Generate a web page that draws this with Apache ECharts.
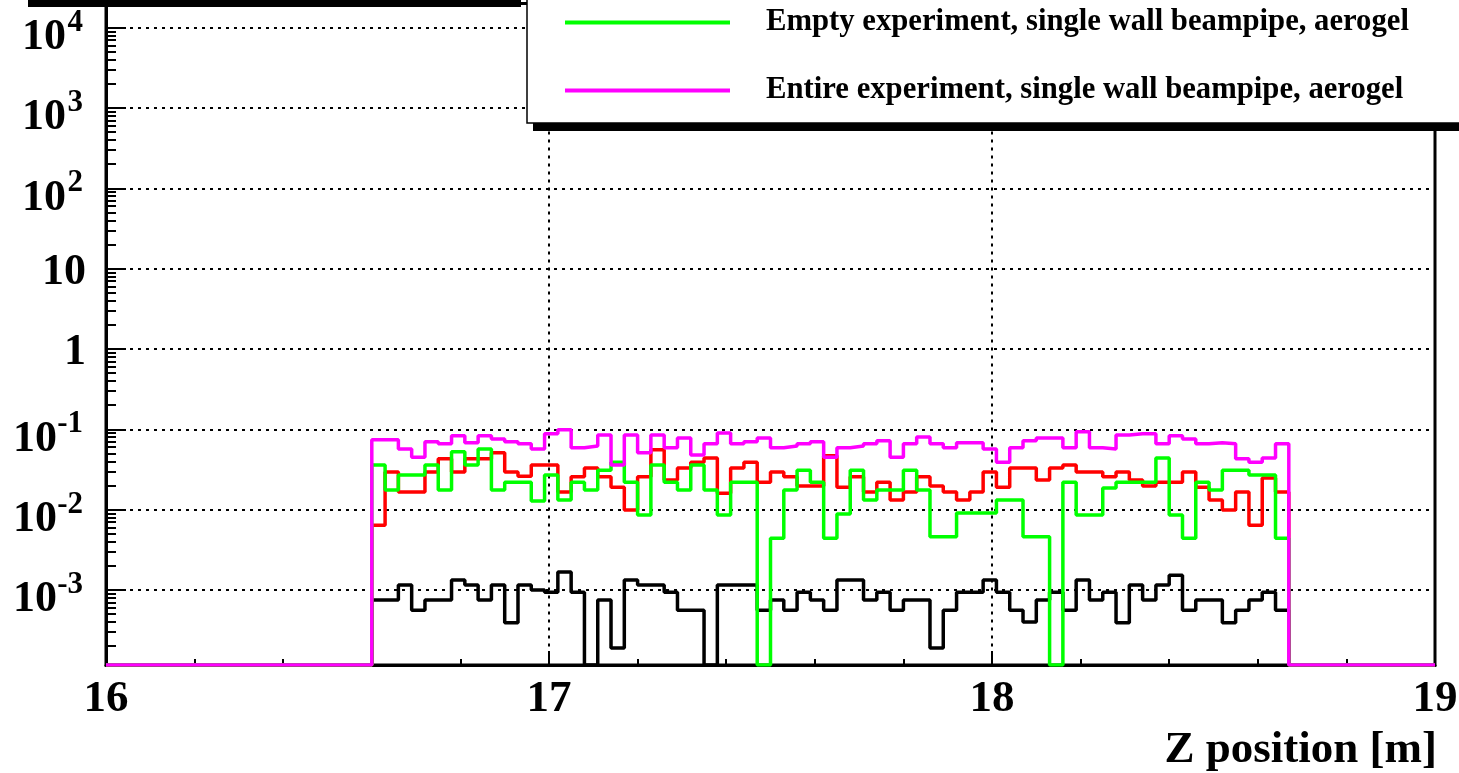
<!DOCTYPE html>
<html>
<head>
<meta charset="utf-8">
<script src="https://cdn.jsdelivr.net/npm/echarts@6/dist/echarts.min.js"></script>
<style>
html,body{margin:0;padding:0;background:#fff;}
#c{width:1459px;height:773px;}
</style>
</head>
<body>
<div id="c"></div>
<script>
// ---- data (histograms: 69 bins of 0.03 m starting at 16.6 m; 0 = empty bin) ----
const binStart = 16.6;
const binWidth = 0.03;
const blackVals = [0.00075,0.00075,0.00115,0.00056,0.00075,0.00075,0.00133,0.00115,0.00075,0.00115,
  0.00039,0.00115,0.001,0.00094,0.00167,0.00094,0,0.00075,0.00019,0.00133,
  0.00115,0.00115,0.00094,0.00056,0.00056,0,0.00115,0.00115,0.00115,0.00056,
  0.00075,0.00056,0.00094,0.00075,0.00056,0.00133,0.00133,0.00075,0.00094,0.00056,
  0.00075,0.00075,0.00019,0.00056,0.00094,0.00094,0.00133,0.00094,0.00056,0.0004,
  0.00075,0.00094,0.00056,0.00133,0.00075,0.00094,0.00039,0.00115,0.00075,0.00115,
  0.00153,0.00056,0.00075,0.00075,0.00039,0.00056,0.00075,0.00094,0.00056];
const redVals = [0.0064,0.0295,0.0166,0.0166,0.0295,0.043,0.0295,0.043,0.043,0.051,
  0.0295,0.026,0.036,0.036,0.0166,0.0256,0.033,0.0256,0.019,0.0099,
  0.0256,0.0555,0.0234,0.033,0.039,0.044,0.016,0.033,0.039,0.022,
  0.0295,0.0256,0.0197,0.0197,0.047,0.019,0.0256,0.0166,0.022,0.0132,
  0.0166,0.0256,0.0197,0.0166,0.0132,0.0166,0.0295,0.019,0.033,0.033,
  0.0234,0.033,0.036,0.0295,0.0295,0.0256,0.0295,0.0234,0.0197,0.022,
  0.022,0.0295,0.019,0.0132,0.0099,0.0166,0.0064,0.0248,0.0166];
const greenVals = [0.036,0.0176,0.027,0.027,0.036,0.0176,0.0524,0.036,0.057,0.0176,
  0.022,0.022,0.0128,0.027,0.0132,0.022,0.0176,0.031,0.039,0.022,
  0.0086,0.036,0.022,0.0176,0.036,0.0176,0.0086,0.022,0.022,0,
  0.0044,0.0176,0.031,0.022,0.0044,0.0088,0.031,0.0132,0.0176,0.0176,
  0.031,0.0176,0.0046,0.0046,0.0091,0.0091,0.0091,0.0132,0.0132,0.0046,
  0.0046,0,0.022,0.0086,0.0086,0.0186,0.022,0.022,0.022,0.044,
  0.0086,0.0044,0.022,0.0176,0.031,0.031,0.027,0.027,0.0044];
const magentaVals = [0.074,0.074,0.057,0.045,0.070,0.066,0.083,0.068,0.083,0.076,
  0.070,0.066,0.057,0.088,0.099,0.059,0.062,0.085,0.036,0.085,
  0.051,0.085,0.059,0.078,0.048,0.066,0.090,0.066,0.070,0.078,
  0.059,0.062,0.066,0.070,0.045,0.059,0.062,0.066,0.072,0.045,
  0.066,0.080,0.066,0.059,0.068,0.068,0.057,0.039,0.059,0.072,
  0.078,0.078,0.059,0.093,0.059,0.057,0.085,0.088,0.088,0.066,
  0.083,0.076,0.066,0.068,0.066,0.043,0.039,0.044,0.066];
const seriesNames = ['Histogram (black)', 'Histogram (red)',
  'Empty experiment, single wall beampipe, aerogel',
  'Entire experiment, single wall beampipe, aerogel'];
const seriesColors = ['#000000', '#ff0000', '#00ff00', '#ff00ff'];
const xTickValues = [16, 17, 18, 19];
const xTickLabels = ['16', '17', '18', '19'];
const yTickValues = [1e-3, 1e-2, 1e-1, 1, 10, 100, 1000, 10000];
const yTickBase = ['10', '10', '10', '1', '10', '10', '10', '10'];
const yTickExp = ['-3', '-2', '-1', '', '', '2', '3', '4'];
const xTitle = 'Z position [m]';

// ---- axis ranges ----
const X_MIN = 16, X_MAX = 19;
const Y_MIN = 1.164e-4, Y_MAX = 20000;
const FONT = "'Liberation Serif', 'Times New Roman', serif";

function histPoints(vals) {
  const pts = [[X_MIN, Y_MIN]];
  vals.forEach((v, i) => pts.push([+(binStart + i * binWidth).toFixed(4), v > 0 ? v : Y_MIN]));
  pts.push([+(binStart + vals.length * binWidth).toFixed(4), Y_MIN]);
  pts.push([X_MAX, Y_MIN]);
  return pts;
}

const minorY = [];
for (let k = -4; k <= 4; k++) {
  for (let m = 2; m <= 9; m++) {
    const v = m * Math.pow(10, k);
    if (v > Y_MIN && v < Y_MAX) minorY.push(v);
  }
}

function nearestIdx(arr, v, log) {
  let best = 0, bd = Infinity;
  arr.forEach((a, i) => {
    const d = log ? Math.abs(Math.log10(a) - Math.log10(v)) : Math.abs(a - v);
    if (d < bd) { bd = d; best = i; }
  });
  return bd < 1e-6 ? best : -1;
}

const allVals = [blackVals, redVals, greenVals, magentaVals];
const series = allVals.map((vals, i) => ({
  name: seriesNames[i],
  type: 'line',
  step: 'end',
  data: histPoints(vals),
  showSymbol: false,
  symbol: 'none',
  color: seriesColors[i],
  lineStyle: { color: seriesColors[i], width: 3.5 },
  clip: true,
  animation: false,
  z: 2 + i
}));

const chart = echarts.init(document.getElementById('c'), null, { renderer: 'canvas' });
chart.setOption({
  animation: false,
  backgroundColor: '#ffffff',
  grid: { left: 106, right: 24, top: 3.5, bottom: 108, outerBoundsMode: 'none', containLabel: false,
    show: true, borderColor: '#000', borderWidth: 3, backgroundColor: 'transparent' },
  title: {
    text: xTitle, right: 22, top: 728, padding: 0,
    textStyle: { fontFamily: FONT, fontWeight: 'bold', fontSize: 45, color: '#000' }
  },
  legend: {
    data: [seriesNames[2], seriesNames[3]],
    orient: 'vertical', left: 565, top: 7, padding: 0,
    icon: 'rect', itemWidth: 165, itemHeight: 4, itemGap: 37,
    selectedMode: false, z: 60,
    textStyle: { fontFamily: FONT, fontWeight: 'bold', fontSize: 30.7, color: '#000', lineHeight: 30, padding: [0, 0, 0, 31] }
  },
  graphic: [
    { type: 'rect', z: 50, shape: { x: 28, y: -10, width: 493, height: 17 }, style: { fill: '#000' } },
    { type: 'rect', z: 50, shape: { x: 533, y: -10, width: 960, height: 141 }, style: { fill: '#000' } },
    { type: 'rect', z: 51, shape: { x: 527, y: -10, width: 960, height: 133 }, style: { fill: '#fff', stroke: '#000', lineWidth: 1.5 } }
  ],
  xAxis: {
    type: 'value', min: X_MIN, max: X_MAX, interval: 1,
    axisLine: { show: true, onZero: false, lineStyle: { color: '#000', width: 3 } },
    axisTick: { show: true, inside: true, length: 14, lineStyle: { color: '#000', width: 2 } },
    minorTick: { show: true, splitNumber: 5, length: 6, lineStyle: { color: '#000', width: 2 } },
    splitLine: { show: true, lineStyle: { color: '#000', width: 2, type: [3, 5] } },
    axisLabel: {
      margin: 12, fontFamily: FONT, fontWeight: 'bold', fontSize: 45, color: '#000',
      formatter: v => { const i = nearestIdx(xTickValues, v, false); return i >= 0 ? xTickLabels[i] : ''; }
    }
  },
  yAxis: [{
    type: 'log', logBase: 10, min: Y_MIN, max: Y_MAX, position: 'left',
    axisLine: { show: true, onZero: false, lineStyle: { color: '#000', width: 3 } },
    axisTick: { show: true, inside: true, length: 20, customValues: yTickValues, lineStyle: { color: '#000', width: 2 } },
    splitLine: { show: true, lineStyle: { color: '#000', width: 2, type: [3, 5] } },
    axisLabel: {
      customValues: yTickValues, margin: 20,
      formatter: v => {
        const i = nearestIdx(yTickValues, v, true);
        if (i < 0) return '';
        const e = yTickExp[i];
        if (!e) return '{c|' + yTickBase[i] + '}';
        return '{b|' + yTickBase[i] + '}{' + (e.length > 1 ? 'e2' : 'e1') + '|' + e + '}';
      },
      rich: {
        b: { fontFamily: FONT, fontWeight: 'bold', fontSize: 44, lineHeight: 44, color: '#000', padding: [20, 0, 0, 0] },
        c: { fontFamily: FONT, fontWeight: 'bold', fontSize: 44, lineHeight: 44, color: '#000', padding: [7, 0, 0, 0] },
        e1: { fontFamily: FONT, fontWeight: 'bold', fontSize: 31, lineHeight: 31, color: '#000', padding: [0, 3, 10, 0], width: 17 },
        e2: { fontFamily: FONT, fontWeight: 'bold', fontSize: 31, lineHeight: 31, color: '#000', padding: [0, 3, 10, 0], width: 26 }
      }
    }
  }, {
    type: 'log', logBase: 10, min: Y_MIN, max: Y_MAX, position: 'left',
    axisLine: { show: false },
    axisLabel: { show: false },
    splitLine: { show: false },
    axisTick: { show: true, inside: true, length: 10, customValues: minorY, lineStyle: { color: '#000', width: 2 } }
  }],
  series: series
});
</script>
</body>
</html>
